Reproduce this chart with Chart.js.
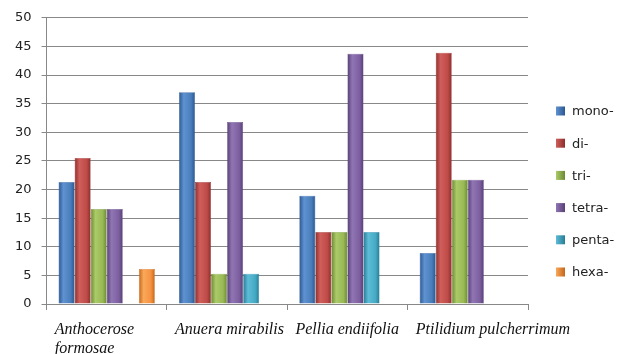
<!DOCTYPE html>
<html>
<head>
<meta charset="utf-8">
<script src="https://cdn.jsdelivr.net/npm/chart.js@4.4.0/dist/chart.umd.min.js"></script>
<style>
  html, body { margin: 0; padding: 0; background: #fff; }
  #wrap { width: 618px; height: 354px; }
</style>
</head>
<body>
<div id="wrap"><canvas id="barChart" width="618" height="354"></canvas></div>
<script>
// ===================
// Data
// ===================
const species = [['Anthocerose', 'formosae'], 'Anuera mirabilis', 'Pellia endiifolia', 'Ptilidium pulcherrimum'];
const seriesNames = ['mono-', 'di-', 'tri-', 'tetra-', 'penta-', 'hexa-'];
const mono  = [21.3, 37.0, 18.9, 8.9];
const di    = [25.5, 21.3, 12.6, 43.9];
const tri   = [16.6, 5.3, 12.6, 21.7];
const tetra = [16.6, 31.8, 43.7, 21.7];
const penta = [0, 5.3, 12.6, 0];
const hexa  = [6.1, 0, 0, 0];
const yTicks = [0, 5, 10, 15, 20, 25, 30, 35, 40, 45, 50];

// base / light / dark shades for each series
const shades = [
  ['#4A7EBB', '#5F92D0', '#2A5791'],
  ['#BE4B48', '#D05E5A', '#8C2E2C'],
  ['#98B954', '#ABCA68', '#6B8934'],
  ['#7D5FA0', '#9075B3', '#573F77'],
  ['#46AAC5', '#5DBCD6', '#277C95'],
  ['#F69240', '#FAA85A', '#C2661B']
];

function barFill(i) {
  return function (c) {
    const el = c.chart.getDatasetMeta(c.datasetIndex).data[c.dataIndex];
    if (!el || el.width == null || isNaN(el.x)) return shades[i][0];
    const x0 = el.x - el.width / 2;
    const g = c.chart.ctx.createLinearGradient(x0, 0, x0 + el.width, 0);
    g.addColorStop(0, shades[i][2]);
    g.addColorStop(0.3, shades[i][1]);
    g.addColorStop(0.75, shades[i][0]);
    g.addColorStop(1, shades[i][2]);
    return g;
  };
}

const allValues = [mono, di, tri, tetra, penta, hexa];

// ===================
// Legend drawn at right
// ===================
const sideLegend = {
  id: 'sideLegend',
  afterDraw(chart) {
    const ctx = chart.ctx;
    ctx.save();
    ctx.font = '13px "DejaVu Sans"';
    ctx.textBaseline = 'middle';
    chart.data.datasets.forEach(function (ds, i) {
      const y = 111 + i * 32.2;
      const g = ctx.createLinearGradient(556, 0, 565, 0);
      g.addColorStop(0, shades[i][1]);
      g.addColorStop(1, shades[i][2]);
      ctx.fillStyle = g;
      ctx.fillRect(556, y - 4.5, 9, 9);
      ctx.fillStyle = '#222';
      ctx.fillText(ds.label, 572, y + 1);
    });
    ctx.restore();
  }
};

const ctx = document.getElementById('barChart').getContext('2d');

const chart = new Chart(ctx, {
  type: 'bar',
  data: {
    labels: species,
    datasets: seriesNames.map(function (name, i) {
      return {
        label: name,
        data: allValues[i],
        backgroundColor: barFill(i),
        borderColor: shades[i][2],
        borderWidth: 0.5,
        categoryPercentage: 0.8,
        barPercentage: 1.0
      };
    })
  },
  options: {
    responsive: false,
    animation: false,
    layout: { padding: { left: 5, right: 90, top: 9, bottom: 0 } },
    plugins: {
      legend: { display: false },
      tooltip: { enabled: false }
    },
    scales: {
      x: {
        afterFit(scale) {
          scale.height = 50;
          scale.paddingLeft = 0;
          scale.paddingRight = 0;
        },
        grid: { offset: true, drawOnChartArea: false, tickLength: 6, color: '#888' },
        border: { color: '#888' },
        ticks: {
          color: '#111',
          padding: 11,
          align: 'start',
          labelOffset: -52,
          maxRotation: 0,
          autoSkip: false,
          font: { family: '"Liberation Serif"', style: 'italic', size: 16, lineHeight: 1.15 }
        }
      },
      y: {
        min: 0,
        max: 50,
        afterBuildTicks(axis) { axis.ticks = yTicks.map(function (v) { return { value: v }; }); },
        grid: { color: '#888', tickLength: 5 },
        border: { color: '#888' },
        ticks: {
          color: '#222',
          padding: 10,
          font: { family: '"DejaVu Sans"', size: 13 }
        }
      }
    }
  },
  plugins: [sideLegend]
});

chart.update();
</script>
</body>
</html>
